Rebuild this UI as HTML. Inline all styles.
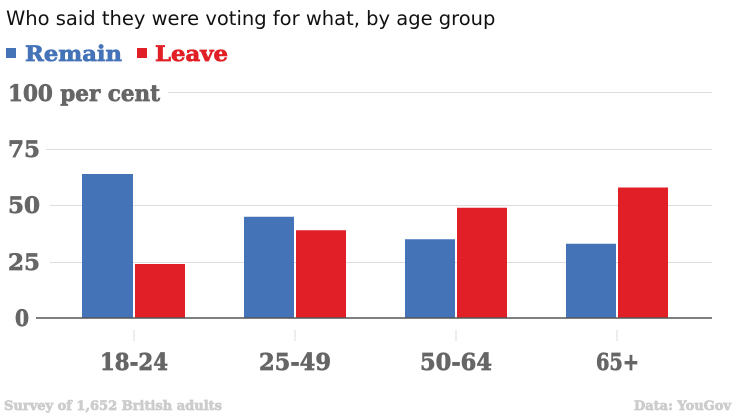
<!DOCTYPE html>
<html><head><meta charset="utf-8"><style>
body{margin:0;background:#fff;width:736px;height:414px;overflow:hidden}
svg text.b{font-family:"DejaVu Serif",serif;font-weight:bold;stroke-width:0.7}
</style></head><body>
<svg width="736" height="414" xmlns="http://www.w3.org/2000/svg">
<text x="6" y="25" style="font-family:'DejaVu Sans','Liberation Sans',sans-serif" font-size="19.5" fill="#111">Who said they were voting for what, by age group</text>
<rect x="6" y="48" width="10" height="10" fill="#4573b8"/>
<text class="b" x="25" y="61" font-size="21" fill="#4573b8" stroke="#4573b8" textLength="97" lengthAdjust="spacingAndGlyphs">Remain</text>
<rect x="137" y="48" width="10" height="10" fill="#e01f26"/>
<text class="b" x="155" y="61" font-size="21" fill="#e01f26" stroke="#e01f26" textLength="73" lengthAdjust="spacingAndGlyphs">Leave</text>
<g stroke="#ddd" stroke-width="1">
<line x1="168" y1="92.5" x2="712" y2="92.5"/>
<line x1="46" y1="149.5" x2="712" y2="149.5"/>
<line x1="50" y1="205.5" x2="712" y2="205.5"/>
<line x1="50" y1="262.5" x2="712" y2="262.5"/>
<line x1="134" y1="330" x2="134" y2="341"/>
<line x1="295" y1="330" x2="295" y2="341"/>
<line x1="456" y1="330" x2="456" y2="341"/>
<line x1="617" y1="330" x2="617" y2="341"/>
</g>
<g font-size="22" fill="#666" stroke="#666">
<text class="b" x="8" y="101" textLength="152" lengthAdjust="spacingAndGlyphs">100 per cent</text>
<text class="b" x="8" y="157" textLength="32" lengthAdjust="spacingAndGlyphs">75</text>
<text class="b" x="8" y="213" textLength="32" lengthAdjust="spacingAndGlyphs">50</text>
<text class="b" x="8" y="270" textLength="32" lengthAdjust="spacingAndGlyphs">25</text>
<text class="b" x="15" y="326" textLength="14" lengthAdjust="spacingAndGlyphs">0</text>
</g>
<g fill="#4573b8">
<rect x="82" y="174" width="51" height="144"/>
<rect x="244" y="216.75" width="50" height="101.25"/>
<rect x="405" y="239.25" width="50" height="78.75"/>
<rect x="566" y="243.75" width="50" height="74.25"/>
</g>
<g fill="#e01f26">
<rect x="135" y="264" width="50" height="54"/>
<rect x="296" y="230.25" width="50" height="87.75"/>
<rect x="457" y="207.75" width="50" height="110.25"/>
<rect x="618" y="187.5" width="50" height="130.5"/>
</g>
<line x1="36" y1="318" x2="712" y2="318" stroke="#555" stroke-width="1.5"/>
<g font-size="23" fill="#666" stroke="#666">
<text class="b" x="100" y="370" textLength="68" lengthAdjust="spacingAndGlyphs">18-24</text>
<text class="b" x="259" y="370" textLength="72" lengthAdjust="spacingAndGlyphs">25-49</text>
<text class="b" x="420" y="370" textLength="72" lengthAdjust="spacingAndGlyphs">50-64</text>
<text class="b" x="596" y="370" textLength="43" lengthAdjust="spacingAndGlyphs">65+</text>
</g>
<text class="b" x="4" y="410" font-size="13" fill="#ccc" stroke="#ccc" stroke-width="0.4" textLength="218" lengthAdjust="spacingAndGlyphs">Survey of 1,652 British adults</text>
<text class="b" x="634" y="410" font-size="13" fill="#ccc" stroke="#ccc" textLength="97" lengthAdjust="spacingAndGlyphs">Data: YouGov</text>
</svg>
</body></html>
